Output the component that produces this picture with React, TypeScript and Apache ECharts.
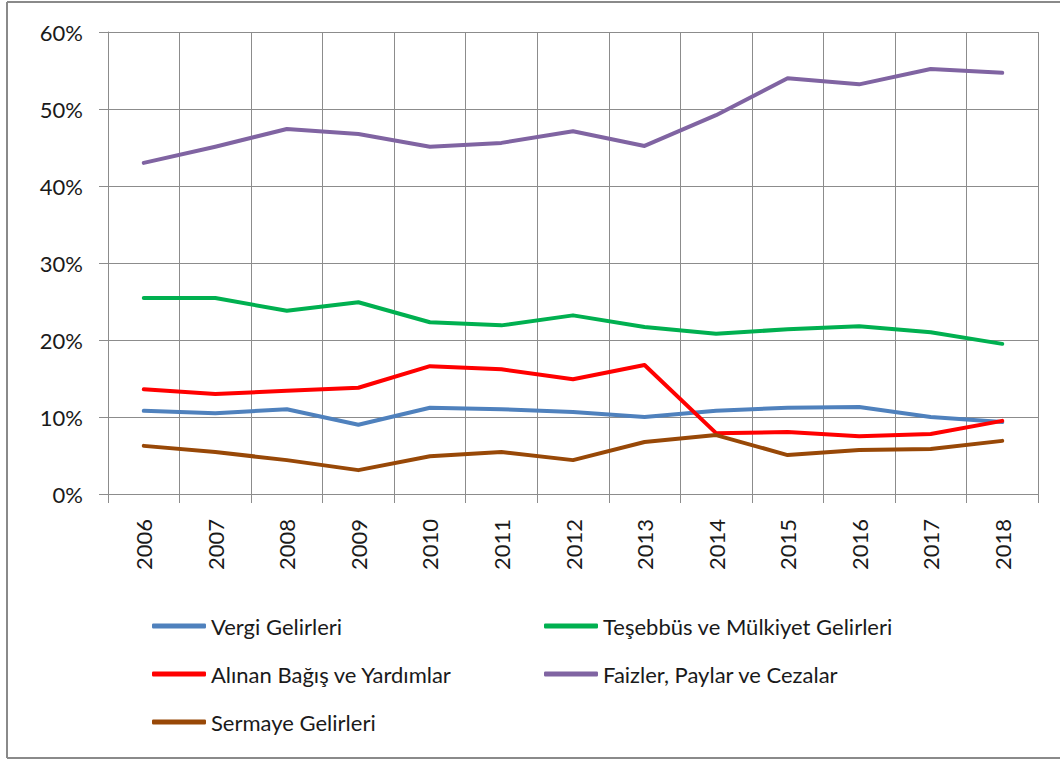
import React, { useEffect, useRef } from "react";
import * as echarts from "echarts";

const years = ["2006","2007","2008","2009","2010","2011","2012","2013","2014","2015","2016","2017","2018"];
const vergi = [10.8, 10.5, 11.0, 9.0, 11.2, 11.0, 10.65, 10.0, 10.8, 11.2, 11.3, 10.0, 9.35];
const tesebbus = [25.45, 25.45, 23.8, 24.9, 22.3, 21.9, 23.2, 21.7, 20.8, 21.4, 21.8, 21.0, 19.5];
const bagis = [13.6, 13.0, 13.4, 13.8, 16.6, 16.2, 14.9, 16.75, 7.9, 8.05, 7.5, 7.8, 9.5];
const faizler = [43.0, 45.1, 47.4, 46.75, 45.1, 45.6, 47.1, 45.2, 49.2, 54.0, 53.2, 55.2, 54.7];
const sermaye = [6.25, 5.45, 4.4, 3.1, 4.9, 5.45, 4.4, 6.75, 7.65, 5.05, 5.7, 5.85, 6.9];

const names = [
  "Vergi Gelirleri",
  "Teşebbüs ve Mülkiyet Gelirleri",
  "Alınan Bağış ve Yardımlar",
  "Faizler, Paylar ve Cezalar",
  "Sermaye Gelirleri",
];
const colors = ["#4F81BD", "#00B050", "#FF0000", "#8064A2", "#984807"];
const seriesData = [vergi, tesebbus, bagis, faizler, sermaye];

const FONT = "Lato, 'Open Sans', sans-serif";

export default function App() {
  const ref = useRef<HTMLDivElement>(null);
  useEffect(() => {
    if (!ref.current) return;
    const chart = echarts.init(ref.current, undefined, { renderer: "svg" });
    const legendCommon = {
      orient: "vertical" as const,
      top: 615,
      padding: 0,
      itemWidth: 54,
      itemHeight: 5,
      itemGap: 26,
      icon: "roundRect",
      selectedMode: false,
      textStyle: { fontFamily: FONT, fontSize: 22, color: "#1a1a1a", lineHeight: 22 },
    };
    const border = { stroke: "#8a8a8a", lineWidth: 2 };
    chart.setOption({
      animation: false,
      backgroundColor: "#ffffff",
      grid: { left: 108, right: 22, top: 32, bottom: 266, containLabel: false },
      legend: [
        { ...legendCommon, left: 152, data: [names[0], names[2], names[4]] },
        { ...legendCommon, left: 544, data: [names[1], names[3]] },
      ],
      xAxis: {
        type: "category",
        data: years,
        boundaryGap: true,
        axisLine: { show: true, lineStyle: { color: "#8c8c8c", width: 1 } },
        axisTick: { show: true, length: 9, lineStyle: { color: "#8c8c8c" } },
        splitLine: { show: true, lineStyle: { color: "#8c8c8c", width: 1 } },
        axisLabel: {
          rotate: 90,
          margin: 25,
          fontFamily: FONT,
          fontSize: 22,
          color: "#1a1a1a",
        },
      },
      yAxis: {
        type: "value",
        min: 0,
        max: 60,
        interval: 10,
        axisLine: { show: true, lineStyle: { color: "#8c8c8c", width: 1 } },
        axisTick: { show: true, length: 9, lineStyle: { color: "#8c8c8c" } },
        splitLine: { show: true, lineStyle: { color: "#8c8c8c", width: 1 } },
        axisLabel: {
          formatter: (v: number) => v + "%",
          margin: 25,
          fontFamily: FONT,
          fontSize: 22,
          color: "#1a1a1a",
        },
      },
      series: names.map((n, i) => ({
        name: n,
        type: "line",
        data: seriesData[i],
        showSymbol: false,
        symbol: "none",
        lineStyle: { color: colors[i], width: 4, cap: "round", join: "round" },
        itemStyle: { color: colors[i] },
        z: 2 + i,
      })),
      graphic: [
        { type: "line", shape: { x1: 7, y1: 2, x2: 1060, y2: 2 }, style: border, silent: true },
        { type: "line", shape: { x1: 7, y1: 2, x2: 7, y2: 758 }, style: border, silent: true },
        { type: "line", shape: { x1: 7, y1: 758, x2: 1060, y2: 758 }, style: border, silent: true },
      ],
    });
    return () => chart.dispose();
  }, []);
  return (
    <div
      ref={ref}
      style={{ position: "absolute", left: 0, top: 0, width: 1060, height: 760 }}
    />
  );
}
